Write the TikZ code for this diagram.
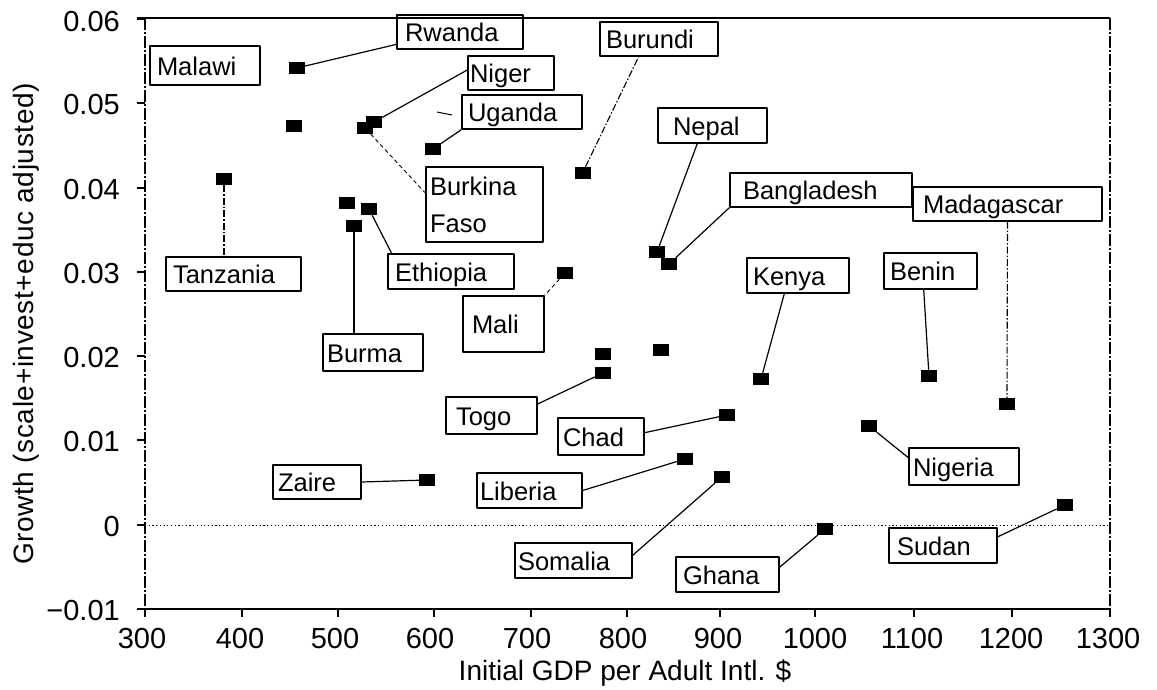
\documentclass[tikz,border=0pt]{standalone}
\usepackage{fontspec}
\setmainfont{Liberation Sans}
\newcommand\LblFont{\fontsize{25.5}{37}\selectfont}
\newcommand\TickFont{\fontsize{29}{34}\selectfont}
\newcommand\TitleFont{\fontsize{28}{33}\selectfont}
\begin{document}
\begin{tikzpicture}[x=1pt,y=-1pt,
  mk/.style={rectangle, fill=black, draw=none, minimum width=16pt, minimum height=12pt, inner sep=0pt},
  boxbase/.style={rectangle, draw, line width=1.3pt, line join=round, inner ysep=0pt, align=left, font=\LblFont},
  box/.style={boxbase, text height=19pt, text depth=0pt},
  conn/.style={line width=1.2pt},
  connd/.style={line width=1.1pt, dash pattern=on 7pt off 2pt on 1.5pt off 2pt},
  connf/.style={line width=0.9pt, dash pattern=on 4pt off 3pt},
  frame/.style={line width=1.4pt},
  framed/.style={line width=1.3pt, dash pattern=on 12pt off 2pt on 2pt off 2pt},
  tick/.style={line width=1.2pt},
  tly/.style={anchor=east, font=\TickFont, inner sep=0pt},
  tlx/.style={anchor=base, font=\TickFont, inner sep=0pt}]
\useasboundingbox (0,0) rectangle (1157,689);

% frame
\draw[frame] (137,18) -- (1110,18);
\draw[frame] (137,609) -- (1110,609);
\draw[framed] (145,18) -- (145,617);
\draw[framed] (1110,18) -- (1110,617);
% zero line
\draw[line width=0.8pt, dash pattern=on 1.2pt off 2.5pt] (145,525) -- (1110,525);

% y ticks
\foreach \yy in {19,103,188,272,356,440,525,609} \draw[tick] (137,\yy) -- (145,\yy);
% x ticks
\foreach \xx in {145,242,338,434,531,627,720,815,914,1012,1110} \draw[tick] (\xx,609) -- (\xx,617);

% y tick labels
\node[tly] (ty6) at (120,22) {0.06};
\node[tly] (ty5) at (120,105) {0.05};
\node[tly] (ty4) at (120,190) {0.04};
\node[tly] (ty3) at (120,274) {0.03};
\node[tly] (ty2) at (120,358) {0.02};
\node[tly] (ty1) at (120,442) {0.01};
\node[tly] (ty0) at (120,527) {0};
\node[tly] (tym) at (120,611) {−0.01};
% x tick labels
\node[tlx] (tx300) at (142,648) {300};
\node[tlx] (tx400) at (240,648) {400};
\node[tlx] (tx500) at (335,648) {500};
\node[tlx] (tx600) at (430,648) {600};
\node[tlx] (tx700) at (527,648) {700};
\node[tlx] (tx800) at (623,648) {800};
\node[tlx] (tx900) at (718,648) {900};
\node[tlx] (tx1000) at (815,648) {1000};
\node[tlx] (tx1100) at (912,648) {1100};
\node[tlx] (tx1200) at (1011,648) {1200};
\node[tlx] (tx1300) at (1108,648) {1300};

% axis titles
\node[anchor=base, font=\TitleFont, inner sep=0pt] (xtitle) at (625,680) {Initial GDP per Adult Intl. \$};
\node[anchor=base, rotate=90, font=\TitleFont, inner sep=0pt] (ytitle) at (33,324) {\addfontfeature{LetterSpace=2.2}Growth (scale+invest+educ adjusted)};

% markers
\node[mk] (mRW) at (296.7,68) {};
\node[mk] (mMW) at (293.5,126) {};
\node[mk] (mBF) at (365,128) {};
\node[mk] (mNI) at (374,122) {};
\node[mk] (mTZ) at (224,179) {};
\node[mk] (mX1) at (347,203) {};
\node[mk] (mET) at (369,209) {};
\node[mk] (mBU) at (354,226) {};
\node[mk] (mUG) at (433,149) {};
\node[mk] (mBI) at (582.5,173) {};
\node[mk] (mNP) at (657,252) {};
\node[mk] (mBD) at (669,264) {};
\node[mk] (mML) at (565,273) {};
\node[mk] (mX2) at (603,354) {};
\node[mk] (mX3) at (661,350) {};
\node[mk] (mTG) at (603,373) {};
\node[mk] (mKE) at (761,379) {};
\node[mk] (mTD) at (727,415) {};
\node[mk] (mLR) at (685,459) {};
\node[mk] (mZR) at (427,480) {};
\node[mk] (mSO) at (722,477) {};
\node[mk] (mGH) at (825,529) {};
\node[mk] (mSD) at (1065,505) {};
\node[mk] (mBJ) at (929,376) {};
\node[mk] (mMG) at (1007,404) {};
\node[mk] (mNG) at (869,426) {};

% label boxes
\node[box, text width=96pt, inner xsep=7pt, minimum height=39pt] (bMW) at (205,65.5) {Malawi};
\node[box, text width=110pt, inner xsep=8pt, minimum height=34pt] (bRW) at (460,32) {Rwanda};
\node[box, text width=82pt, inner xsep=2pt, minimum height=34pt] (bNI) at (511,73) {Niger};
\node[box, text width=108pt, inner xsep=6pt, minimum height=34pt] (bUG) at (522,112) {Uganda};
\node[boxbase, text width=109pt, inner xsep=4pt, minimum height=75pt] (bBF) at (484.5,204.5) {Burkina\\Faso};
\node[box, text width=106pt, inner xsep=6pt, minimum height=34pt] (bBI) at (659,39) {Burundi};
\node[box, text width=79pt, inner xsep=15pt, minimum height=35pt] (bNP) at (712.5,125.5) {Nepal};
\node[box, text width=156pt, inner xsep=13pt, minimum height=34pt] (bBD) at (821,190) {Bangladesh};
\node[box, text width=169pt, inner xsep=10pt, minimum height=34pt] (bMG) at (1007.5,204) {Madagascar};
\node[box, text width=121pt, inner xsep=7pt, minimum height=34pt] (bTZ) at (233.5,274) {Tanzania};
\node[box, text width=92pt, inner xsep=4pt, minimum height=37pt] (bBU) at (373,352.5) {Burma};
\node[box, text width=112pt, inner xsep=7pt, minimum height=35pt] (bET) at (451,271.5) {Ethiopia};
\node[box, text width=63pt, inner xsep=9pt, minimum height=56pt] (bML) at (503.5,324) {Mali};
\node[box, text width=71pt, inner xsep=10pt, minimum height=37pt] (bTG) at (491.5,415.5) {Togo};
\node[box, text width=76pt, inner xsep=5pt, minimum height=37pt] (bTD) at (601,436.5) {Chad};
\node[box, text width=90pt, inner xsep=6pt, minimum height=35pt] (bKE) at (798,275.5) {Kenya};
\node[box, text width=81pt, inner xsep=6pt, minimum height=36pt] (bBJ) at (930.5,271) {Benin};
\node[box, text width=102pt, inner xsep=4pt, minimum height=37pt] (bNG) at (964,466.5) {Nigeria};
\node[box, text width=78pt, inner xsep=5pt, minimum height=34pt] (bZR) at (317,482) {Zaire};
\node[box, text width=99pt, inner xsep=3pt, minimum height=35pt] (bLR) at (529.5,490.5) {Liberia};
\node[box, text width=111pt, inner xsep=3pt, minimum height=35pt] (bSO) at (573.5,560.5) {Somalia};
\node[box, text width=89pt, inner xsep=7pt, minimum height=35pt] (bGH) at (727.5,574.5) {Ghana};
\node[box, text width=92pt, inner xsep=8pt, minimum height=35pt] (bSD) at (943,545.5) {Sudan};

% connectors
\draw[conn] (mRW) -- (bRW.191);
\draw[conn] (mNI) -- (bNI.176);
\draw[conn] (mUG) -- (bUG.south west);
\draw[connf] (mBF) -- (bBF.169);
\draw[connd] (mBI) -- (bBI.221);
\draw[conn] (mNP) -- (bNP.230);
\draw[conn] (mBD) -- (bBD.south west);
\draw[connd] (bMG.south) -- (mMG.north);
\draw[connd] (mTZ) -- (mTZ |- bTZ.north);
\draw[conn] (mBU) -- (mBU |- bBU.north);
\draw[conn] (mET) -- (bET.163);
\draw[connf] (mML) -- (bML.north east);
\draw[conn] (mTG) -- (bTG.14);
\draw[conn] (mTD) -- (bTD.5);
\draw[conn] (mKE) -- (bKE.233);
\draw[conn] (mBJ) -- (bBJ.250);
\draw[conn] (mNG) -- (bNG.171);
\draw[conn] (mZR) -- (bZR.east);
\draw[conn] (mLR) -- (bLR.east);
\draw[conn] (mSO) -- (bSO.5);
\draw[conn] (mGH) -- (bGH.8);
\draw[conn] (mSD) -- (bSD.9);
% small stray stroke beside Uganda
\draw[line width=1pt] (437,112) -- (452,115);
\end{tikzpicture}
\end{document}
